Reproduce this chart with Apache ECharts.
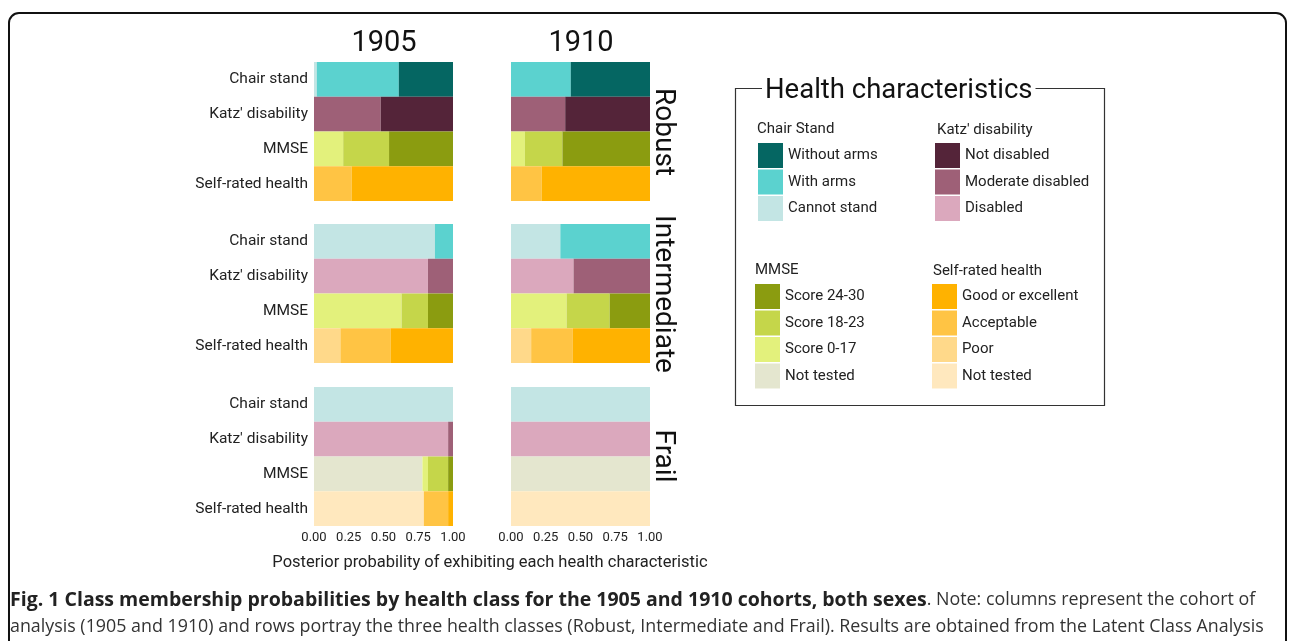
<!DOCTYPE html>
<head>
    <meta charset="utf-8"/>
    <style>
        html, body {
            height: 100%;
            margin: 0;
        }
        body {
            background-color: #fff;
        }
    </style>
    <script src="https://cdn.jsdelivr.net/npm/echarts@6/dist/echarts.min.js"></script>
</head>
<body>
<div id="main" style="height: 641px; width: 1292px;"></div>
<script type="text/javascript">
 // rows inside each panel
 var rows = ['Chair stand', "Katz' disability", 'MMSE', 'Self-rated health'];
 var cohorts = ['1905', '1910'];
 var classes = ['Robust', 'Intermediate', 'Frail'];
 var tickLabels = ['0.00', '0.25', '0.50', '0.75', '1.00'];

 // panel order: Robust 1905, Robust 1910, Intermediate 1905, Intermediate 1910, Frail 1905, Frail 1910
 var chairCannot   = [0.02, 0.00, 0.87, 0.355, 1.00, 1.00];
 var chairWithArms = [0.59, 0.43, 0.13, 0.645, 0.00, 0.00];
 var chairNoArms   = [0.39, 0.57, 0.00, 0.00, 0.00, 0.00];
 var katzDisabled  = [0.00, 0.00, 0.82, 0.45, 0.965, 1.00];
 var katzModerate  = [0.48, 0.39, 0.18, 0.55, 0.035, 0.00];
 var katzNot       = [0.52, 0.61, 0.00, 0.00, 0.00, 0.00];
 var mmseNotTested = [0.00, 0.00, 0.00, 0.00, 0.78, 1.00];
 var mmse0to17     = [0.21, 0.10, 0.63, 0.40, 0.04, 0.00];
 var mmse18to23    = [0.33, 0.27, 0.19, 0.31, 0.145, 0.00];
 var mmse24to30    = [0.46, 0.63, 0.18, 0.30, 0.035, 0.00];
 var srhNotTested  = [0.00, 0.00, 0.00, 0.00, 0.79, 1.00];
 var srhPoor       = [0.00, 0.00, 0.19, 0.145, 0.00, 0.00];
 var srhAcceptable = [0.27, 0.22, 0.36, 0.30, 0.175, 0.00];
 var srhGood       = [0.73, 0.78, 0.45, 0.555, 0.035, 0.00];

 // segments, left to right inside a bar: [name, row index, values, colour]
 var segments = [
     ['Cannot stand', 0, chairCannot, '#c3e5e4'],
     ['With arms', 0, chairWithArms, '#5bd2cf'],
     ['Without arms', 0, chairNoArms, '#056662'],
     ['Disabled', 1, katzDisabled, '#dba8bd'],
     ['Moderate disabled', 1, katzModerate, '#9e6077'],
     ['Not disabled', 1, katzNot, '#542439'],
     ['MMSE|Not tested', 2, mmseNotTested, '#e4e6cf'],
     ['Score 0-17', 2, mmse0to17, '#e3f17c'],
     ['Score 18-23', 2, mmse18to23, '#c5d64a'],
     ['Score 24-30', 2, mmse24to30, '#8b9c10'],
     ['SRH|Not tested', 3, srhNotTested, '#ffe8be'],
     ['Poor', 3, srhPoor, '#ffd98a'],
     ['Acceptable', 3, srhAcceptable, '#ffc444'],
     ['Good or excellent', 3, srhGood, '#ffb200']
 ];

 var FONT = 'Roboto';
 var gridLeft = [314, 511];
 var gridTop = [62, 224, 387];

 var grids = [], xAxes = [], yAxes = [], series = [];
 for (var k = 0; k < classes.length; k++) {
     for (var c = 0; c < cohorts.length; c++) {
         var g = k * 2 + c;
         grids.push({left: gridLeft[c], top: gridTop[k], width: 139, height: 139});
         xAxes.push({
             type: 'value', gridIndex: g, min: 0, max: 1, interval: 0.25,
             axisLine: {show: false}, axisTick: {show: false}, splitLine: {show: false},
             axisLabel: {
                 show: k === 2, margin: 5, color: '#222', fontSize: 13, fontFamily: FONT,
                 formatter: function (v) { return tickLabels[Math.round(v * 4)]; }
             }
         });
         yAxes.push({
             type: 'category', gridIndex: g, data: rows, inverse: true,
             axisLine: {show: false}, axisTick: {show: false},
             axisLabel: {show: c === 0, margin: 6, color: '#222', fontSize: 15.5, fontFamily: FONT}
         });
         segments.forEach(function (s) {
             var d = [0, 0, 0, 0];
             d[s[1]] = s[2][g];
             series.push({
                 name: s[0], type: 'bar', stack: 'p' + g,
                 xAxisIndex: g, yAxisIndex: g,
                 barCategoryGap: 0, barWidth: '100%',
                 itemStyle: {color: s[3]},
                 silent: true, animation: false,
                 data: d
             });
         });
     }
 }

 function legendBox(left, top, names) {
     return {
         left: left, top: top, orient: 'vertical', padding: 0,
         itemWidth: 25, itemHeight: 25, itemGap: 1.5, icon: 'rect',
         selectedMode: false,
         textStyle: {fontSize: 15, color: '#222', fontFamily: FONT},
         formatter: function (n) { return n.indexOf('|') >= 0 ? n.split('|')[1] : n; },
         data: names
     };
 }

 function txt(x, y, text, size, extra) {
     var o = {
         type: 'text', x: x, y: y, silent: true,
         style: {text: text, fontSize: size, fontFamily: FONT, fill: '#222', textVerticalAlign: 'middle'}
     };
     if (extra) for (var key in extra) o.style[key] = extra[key];
     return o;
 }

 var graphics = [
     // outer frame
     {type: 'rect', shape: {x: 9, y: 13, width: 1277, height: 700, r: 10},
      style: {fill: 'none', stroke: '#111', lineWidth: 2}, silent: true},
     // legend frame
     {type: 'rect', shape: {x: 735.5, y: 88.5, width: 369, height: 317},
      style: {fill: 'none', stroke: '#333', lineWidth: 1.2}, silent: true},
     txt(762, 91, 'Health characteristics', 27.5, {backgroundColor: '#fff', padding: [0, 3], fill: '#111'}),
     txt(757, 129, 'Chair Stand', 15),
     txt(937, 130, "Katz' disability", 15),
     txt(755, 270, 'MMSE', 15),
     txt(933, 271, 'Self-rated health', 15),
     txt(384, 44, cohorts[0], 29, {textAlign: 'center', fill: '#111'}),
     txt(581, 44, cohorts[1], 29, {textAlign: 'center', fill: '#111'}),
     txt(490, 563, 'Posterior probability of exhibiting each health characteristic', 16.5, {textAlign: 'center'}),
     {
         type: 'text', x: 10, y: 600, silent: true,
         style: {
             text: '{b|Fig. 1 Class membership probabilities by health class for the 1905 and 1910 cohorts, both sexes}{n|. Note: columns represent the cohort of}',
             textVerticalAlign: 'middle',
             rich: {
                 b: {fontSize: 19.5, fontWeight: 'bold', fontFamily: 'Open Sans', fill: '#222'},
                 n: {fontSize: 17.85, fontFamily: 'Open Sans', fill: '#333'}
             }
         }
     },
     txt(10, 627, 'analysis (1905 and 1910) and rows portray the three health classes (Robust, Intermediate and Frail). Results are obtained from the Latent Class Analysis', 17.85, {fontFamily: 'Open Sans', fill: '#333'})
 ];
 // class labels on the right, rotated
 var classY = [132, 294, 456];
 for (var i = 0; i < classes.length; i++) {
     var t = txt(663, classY[i], classes[i], 28, {textAlign: 'center', fill: '#111'});
     t.rotation = -Math.PI / 2;
     graphics.push(t);
 }

 var options = {
     backgroundColor: '#fff',
     animation: false,
     grid: grids,
     xAxis: xAxes,
     yAxis: yAxes,
     legend: [
         legendBox(758, 143, ['Without arms', 'With arms', 'Cannot stand']),
         legendBox(935, 143, ['Not disabled', 'Moderate disabled', 'Disabled']),
         legendBox(755, 284, ['Score 24-30', 'Score 18-23', 'Score 0-17', 'MMSE|Not tested']),
         legendBox(932, 284, ['Good or excellent', 'Acceptable', 'Poor', 'SRH|Not tested'])
     ],
     graphic: graphics,
     series: series
 };

 var myChart = echarts.init(document.getElementById('main'));
 myChart.setOption(options);
</script>
</body>
